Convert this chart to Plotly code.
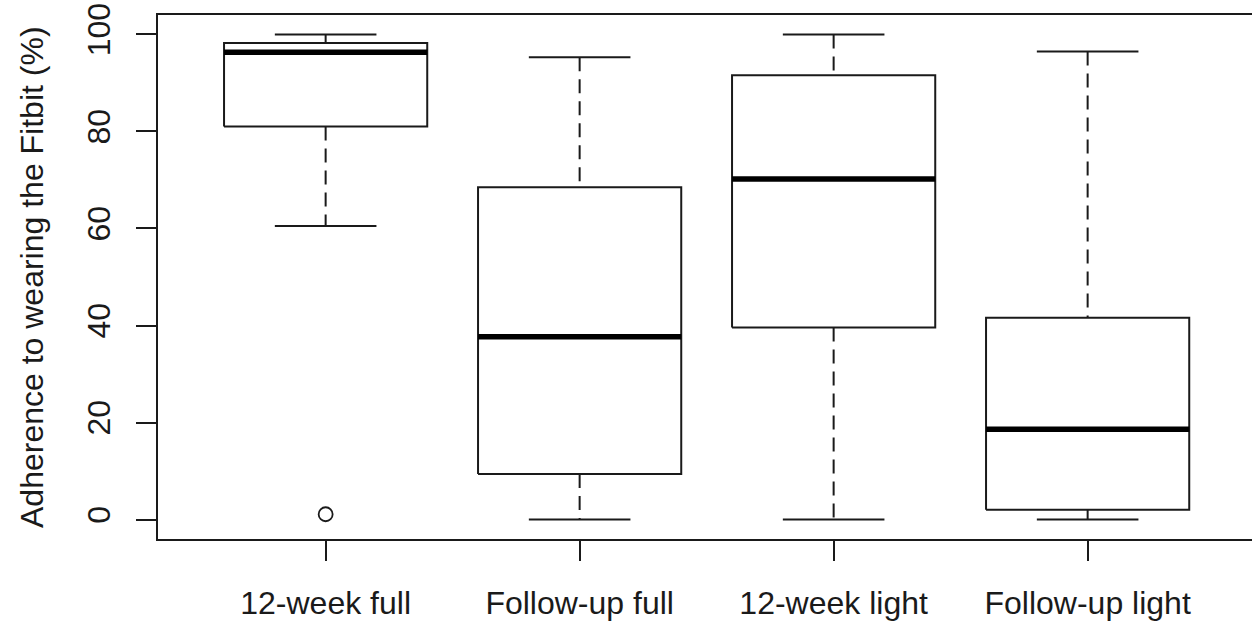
import plotly.graph_objects as go

# Summary statistics of adherence (%) per group
groups = ["12-week full", "Follow-up full", "12-week light", "Follow-up light"]
lower_whisker = [60.5, 0.0, 0.0, 0.0]
q1 = [81.0, 9.4, 39.6, 2.05]
median = [96.3, 37.7, 70.2, 18.6]
q3 = [98.25, 68.5, 91.6, 41.6]
upper_whisker = [100.0, 95.3, 100.0, 96.5]
outlier_group = [1]
outlier_value = [1.1]

ink = "#1a1a1a"
font_family = "Liberation Sans, Arial, Helvetica, sans-serif"
half_box = 0.4
half_cap = 0.2

pos = list(range(1, len(groups) + 1))

# dashed whiskers and solid staples
wx, wy, cx, cy = [], [], [], []
for p, lo, a, b, hi in zip(pos, lower_whisker, q1, q3, upper_whisker):
    wx += [p, p, None, p, p, None]
    wy += [hi, b, None, a, lo, None]
    cx += [p - half_cap, p + half_cap, None, p - half_cap, p + half_cap, None]
    cy += [hi, hi, None, lo, lo, None]

fig = go.Figure()
fig.add_trace(go.Scatter(x=wx, y=wy, mode="lines", hoverinfo="skip",
                         line=dict(color=ink, width=2, dash="14px,8px")))
fig.add_trace(go.Scatter(x=cx, y=cy, mode="lines", hoverinfo="skip",
                         line=dict(color=ink, width=2)))

# boxes (white filled rectangles)
for p, a, b in zip(pos, q1, q3):
    fig.add_trace(go.Scatter(
        x=[p - half_box, p + half_box, p + half_box, p - half_box, p - half_box],
        y=[a, a, b, b, a], mode="lines", fill="toself", fillcolor="white",
        hoverinfo="skip", line=dict(color=ink, width=2)))

# thick median bars
mx, my = [], []
for p, m in zip(pos, median):
    mx += [p - half_box, p + half_box, None]
    my += [m, m, None]
fig.add_trace(go.Scatter(x=mx, y=my, mode="lines", hoverinfo="skip",
                         line=dict(color="#000000", width=5.5)))

# outliers
fig.add_trace(go.Scatter(x=outlier_group, y=outlier_value, mode="markers", hoverinfo="skip",
                         marker=dict(symbol="circle-open", size=14, color=ink,
                                     line=dict(width=1.8, color=ink))))

fig.add_annotation(text="Adherence to wearing the Fitbit (%)", textangle=-90,
                   xref="paper", yref="paper", x=(32 - 158) / 1094, y=0.5,
                   xanchor="center", yanchor="middle", showarrow=False,
                   font=dict(family=font_family, size=32, color=ink))

fig.update_layout(
    width=1252, height=621,
    margin=dict(l=158, r=0, t=15, b=80),
    paper_bgcolor="white", plot_bgcolor="white",
    showlegend=False,
    font=dict(family=font_family, size=32, color=ink),
    xaxis=dict(range=[0.34, 0.34 + 1094 / 254], tickvals=pos, ticktext=groups,
               showgrid=False, zeroline=False, showline=True, mirror=True,
               linecolor=ink, linewidth=2, ticks="outside", ticklen=20,
               tickwidth=2, tickcolor=ink, ticklabelstandoff=15),
    yaxis=dict(range=[-4, 104], tickvals=[0, 20, 40, 60, 80, 100],
               showgrid=False, zeroline=False, showline=True, mirror=False,
               linecolor=ink, linewidth=2, ticks="outside", ticklen=20,
               tickwidth=2, tickcolor=ink, tickangle=-90, ticklabelstandoff=13),
)

fig.write_html("out.html")
